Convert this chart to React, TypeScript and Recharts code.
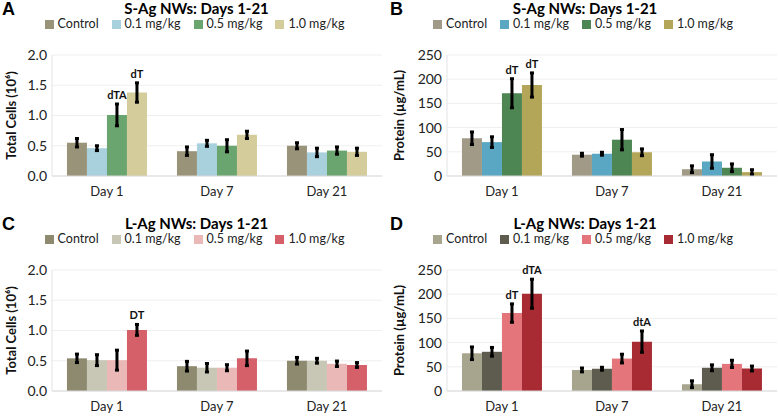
import React from 'react';
import {
  BarChart,
  Bar,
  XAxis,
  YAxis,
  CartesianGrid,
  Legend,
  ErrorBar,
  LabelList,
} from 'recharts';

const days = ['Day 1', 'Day 7', 'Day 21'];
const doses = ['Control', '0.1 mg/kg', '0.5 mg/kg', '1.0 mg/kg'];

// A: S-Ag total cells (10^6)
const aControl = [0.55, 0.41, 0.5];
const aLow = [0.46, 0.54, 0.39];
const aMid = [1.01, 0.5, 0.42];
const aHigh = [1.38, 0.68, 0.4];
const aControlErr = [0.07, 0.07, 0.05];
const aLowErr = [0.04, 0.05, 0.07];
const aMidErr = [0.18, 0.1, 0.06];
const aHighErr = [0.16, 0.06, 0.06];
const aMidMarks = ['dTA', '', ''];
const aHighMarks = ['dT', '', ''];

// B: S-Ag protein (ug/mL)
const bControl = [78, 44, 14];
const bLow = [70, 46, 30];
const bMid = [171, 75, 17];
const bHigh = [188, 49, 8];
const bControlErr = [13, 3, 7];
const bLowErr = [11, 3, 14];
const bMidErr = [30, 21, 8];
const bHighErr = [25, 7, 5];
const bMidMarks = ['dT', '', ''];
const bHighMarks = ['dT', '', ''];

// C: L-Ag total cells (10^6)
const cControl = [0.54, 0.41, 0.5];
const cLow = [0.51, 0.385, 0.5];
const cMid = [0.51, 0.385, 0.45];
const cHigh = [1.01, 0.54, 0.43];
const cControlErr = [0.07, 0.08, 0.055];
const cLowErr = [0.09, 0.07, 0.04];
const cMidErr = [0.165, 0.05, 0.045];
const cHighErr = [0.09, 0.12, 0.04];
const cHighMarks = ['DT', '', ''];

// D: L-Ag protein (ug/mL)
const dControl = [78, 43.5, 14];
const dLow = [81, 46, 48];
const dMid = [161, 67, 56];
const dHigh = [201, 102, 46.5];
const dControlErr = [13, 4, 7];
const dLowErr = [9, 3, 6];
const dMidErr = [19, 9, 7.5];
const dHighErr = [30, 22, 5];
const dMidMarks = ['dT', '', ''];
const dHighMarks = ['dTA', 'dtA', ''];

const noMarks = ['', '', ''];

const cellTicks = [0, 0.5, 1, 1.5, 2];
const proteinTicks = [0, 50, 100, 150, 200, 250];

const colorsA = ['#999379', '#a9d0dd', '#6aa56f', '#d5cc9b'];
const colorsB = ['#a09a86', '#5aa7c3', '#4d8553', '#b4a658'];
const colorsC = ['#8d8a6f', '#c8c7b5', '#ebb8b8', '#d6606a'];
const colorsD = ['#a8a58f', '#5d5c4f', '#e3757b', '#a82a33'];

const FONT = 'Lato, "Open Sans", sans-serif';

interface PanelProps {
  letter: string;
  title: string;
  yLabel: string;
  left: number;
  top: number;
  width: number;
  yWidth: number;
  rightMargin: number;
  values: number[][];
  errors: number[][];
  marks: string[][];
  colors: string[];
  domain: [number, number];
  ticks: number[];
  fmt: (v: number) => string;
}

const makeMark = (vals: number[], errs: number[]) => (props: any) => {
  const { x, y, width, height, index, value } = props;
  if (!value) return null;
  const ppu = Number(height) / vals[index];
  const errTop = Number(y) - errs[index] * ppu;
  return (
    <text
      x={Number(x) + Number(width) / 2}
      y={errTop - 5}
      textAnchor="middle"
      fontSize={11}
      fontWeight="bold"
      fontFamily={FONT}
      fill="#111"
    >
      {value}
    </text>
  );
};

// legend kept in series order (recharts sorts by name otherwise)
const makeLegend = (colors: string[]) => () => (
  <div style={{ display: 'flex', justifyContent: 'center', gap: 13 }}>
    {doses.map((d, k) => (
      <div key={d} style={{ display: 'flex', alignItems: 'center' }}>
        <span style={{ width: 9, height: 9, background: colors[k], marginRight: 4, display: 'inline-block' }} />
        <span style={{ color: '#222' }}>{d}</span>
      </div>
    ))}
  </div>
);

const Panel: React.FC<PanelProps> = (p) => {
  const data = days.map((day, i) => ({
    day,
    v0: p.values[0][i],
    v1: p.values[1][i],
    v2: p.values[2][i],
    v3: p.values[3][i],
    e0: p.errors[0][i],
    e1: p.errors[1][i],
    e2: p.errors[2][i],
    e3: p.errors[3][i],
    m0: p.marks[0][i],
    m1: p.marks[1][i],
    m2: p.marks[2][i],
    m3: p.marks[3][i],
  }));

  return (
    <div style={{ position: 'absolute', left: p.left, top: p.top, width: p.width, height: 202 }}>
      <div
        style={{
          position: 'absolute',
          left: 2,
          top: 0,
          lineHeight: '18px',
          fontFamily: '"Liberation Sans", Arial, sans-serif',
          fontWeight: 'bold',
          fontSize: 18,
        }}
      >
        {p.letter}
      </div>
      <div
        style={{
          position: 'absolute',
          left: 0,
          width: p.width,
          top: 0,
          lineHeight: '16px',
          textAlign: 'center',
          fontFamily: FONT,
          fontWeight: 'bold',
          fontSize: 15,
          paddingLeft: 2,
        }}
      >
        {p.title}
      </div>
      <BarChart
        width={p.width}
        height={202}
        data={data}
        margin={{ top: 41, right: p.rightMargin, bottom: 6, left: 0 }}
        barCategoryGap="13.6%"
        barGap={0}
      >
        <CartesianGrid vertical={false} stroke="#efefef" />
        <XAxis
          dataKey="day"
          axisLine={{ stroke: '#d9d9d9' }}
          tickLine={false}
          tickSize={9}
          tickMargin={2}
          height={20}
          tick={{ fontSize: 13, fill: '#222', fontFamily: FONT }}
        />
        <YAxis
          width={p.yWidth}
          domain={p.domain}
          ticks={p.ticks}
          interval={0}
          tickFormatter={p.fmt}
          axisLine={{ stroke: '#e3e3e3' }}
          tickLine={false}
          tickSize={3}
          tickMargin={2}
          tick={{ fontSize: 14, fill: '#222', fontFamily: FONT }}
          label={{
            value: p.yLabel,
            angle: -90,
            position: 'center',
            dx: -(p.yWidth / 2) + 11,
            style: { fontSize: 13, fontWeight: 'bold', fill: '#111', fontFamily: FONT },
          }}
        />
        <Legend
          verticalAlign="top"
          align="center"
          content={makeLegend(p.colors)}
          wrapperStyle={{
            top: 17,
            left: 0,
            width: p.width,
            fontSize: 12.5,
            fontFamily: FONT,
            lineHeight: '14px',
          }}
        />
        {[0, 1, 2, 3].map((k) => (
          <Bar
            key={k}
            dataKey={`v${k}`}
            name={doses[k]}
            fill={p.colors[k]}
            isAnimationActive={false}
          >
            <ErrorBar dataKey={`e${k}`} width={2} strokeWidth={3} stroke="#000" direction="y" />
            <LabelList dataKey={`m${k}`} content={makeMark(p.values[k], p.errors[k])} />
          </Bar>
        ))}
      </BarChart>
    </div>
  );
};

const fmtCells = (v: number) => v.toFixed(1);
const fmtProtein = (v: number) => String(v);

export default function App() {
  return (
    <div style={{ position: 'absolute', left: 0, top: 0, width: 778, height: 417, background: '#fff' }}>
      <Panel
        letter="A"
        title="S-Ag NWs: Days 1-21"
        yLabel="Total Cells (10⁶)"
        left={0}
        top={0}
        width={389}
        yWidth={52}
        rightMargin={7}
        values={[aControl, aLow, aMid, aHigh]}
        errors={[aControlErr, aLowErr, aMidErr, aHighErr]}
        marks={[noMarks, noMarks, aMidMarks, aHighMarks]}
        colors={colorsA}
        domain={[0, 2]}
        ticks={cellTicks}
        fmt={fmtCells}
      />
      <Panel
        letter="B"
        title="S-Ag NWs: Days 1-21"
        yLabel="Protein (µg/mL)"
        left={388}
        top={0}
        width={390}
        yWidth={59}
        rightMargin={1}
        values={[bControl, bLow, bMid, bHigh]}
        errors={[bControlErr, bLowErr, bMidErr, bHighErr]}
        marks={[noMarks, noMarks, bMidMarks, bHighMarks]}
        colors={colorsB}
        domain={[0, 250]}
        ticks={proteinTicks}
        fmt={fmtProtein}
      />
      <Panel
        letter="C"
        title="L-Ag NWs: Days 1-21"
        yLabel="Total Cells (10⁶)"
        left={0}
        top={215}
        width={389}
        yWidth={52}
        rightMargin={7}
        values={[cControl, cLow, cMid, cHigh]}
        errors={[cControlErr, cLowErr, cMidErr, cHighErr]}
        marks={[noMarks, noMarks, noMarks, cHighMarks]}
        colors={colorsC}
        domain={[0, 2]}
        ticks={cellTicks}
        fmt={fmtCells}
      />
      <Panel
        letter="D"
        title="L-Ag NWs: Days 1-21"
        yLabel="Protein (µg/mL)"
        left={388}
        top={215}
        width={390}
        yWidth={59}
        rightMargin={1}
        values={[dControl, dLow, dMid, dHigh]}
        errors={[dControlErr, dLowErr, dMidErr, dHighErr]}
        marks={[noMarks, noMarks, dMidMarks, dHighMarks]}
        colors={colorsD}
        domain={[0, 250]}
        ticks={proteinTicks}
        fmt={fmtProtein}
      />
    </div>
  );
}
